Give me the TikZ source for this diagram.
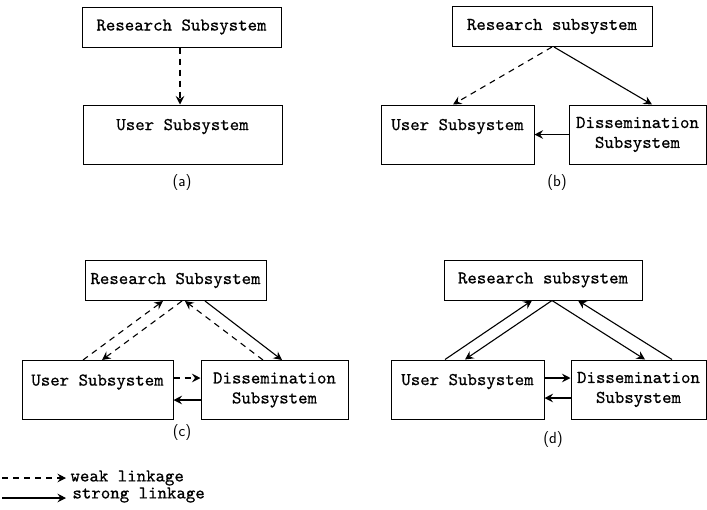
\documentclass[tikz,border=0pt]{standalone}
\usepackage{fontspec}
\setmonofont[FakeBold=0.6]{lmmono10-regular.otf}
\usetikzlibrary{arrows.meta}
\begin{document}
\begin{tikzpicture}[x=1pt,y=-1pt,line width=1pt,
    >={Stealth[length=8.5pt,width=8.5pt,inset=3pt]},
    box/.style={draw,align=center,inner sep=0pt,font=\fontsize{18}{20}\selectfont\ttfamily},
    sub/.style={box,minimum height=40pt},
    two/.style={box,minimum height=59pt},
    weak/.style={->,line width=1.1pt,dash pattern=on 6pt off 5pt},
    strong/.style={->,line width=1.1pt},
    tag/.style={font=\fontsize{16}{18}\selectfont\sffamily},
    key/.style={anchor=west,inner sep=0pt,font=\fontsize{18}{20}\selectfont\ttfamily}]
      \useasboundingbox (0,0) rectangle (707,509);
      % (a)
      \node[sub,minimum width=199pt] (ra) at (181.5,27) {Research Subsystem};
      \node[two,minimum width=199pt] (ua) at (182.5,134.5) {User Subsystem\\~};
      \draw[weak] ([xshift=-1.5pt]ra.south) -- ([xshift=-2.5pt]ua.north);
      \node[tag] (la) at (182,183) {(a)};
      % (b)
      \node[sub,minimum width=200pt] (rb) at (552,26.5) {Research subsystem};
      \node[two,minimum width=153pt] (ub) at (457.5,134.5) {User Subsystem\\~};
      \node[two,minimum width=137pt] (db) at (637.5,134.5) {Dissemination\\Subsystem};
      \draw[weak] (rb.south) -- ([xshift=-4.5pt]ub.north);
      \draw[strong] ([xshift=2pt]rb.south) -- ([xshift=14.5pt]db.north);
      \draw[strong] (db.west) -- (ub.east);
      \node[tag] (lb) at (557,183) {(b)};
      % (c)
      \node[sub,minimum width=181pt] (rc) at (175.5,280.5) {Research Subsystem};
      \node[two,minimum width=151pt] (uc) at (97.5,390) {User Subsystem\\~};
      \node[two,minimum width=147pt] (dc) at (274.5,390) {Dissemination\\Subsystem};
      \draw[weak] ([xshift=-14.5pt]uc.north) -- ([xshift=-12.5pt]rc.south);
      \draw[weak] ([xshift=6.5pt]rc.south) -- ([xshift=4.5pt]uc.north);
      \draw[weak] ([xshift=-11.5pt]dc.north) -- ([xshift=9.5pt]rc.south);
      \draw[strong] ([xshift=29.5pt]rc.south) -- ([xshift=7.5pt]dc.north);
      \draw[weak] ([yshift=12pt]uc.east) -- ([yshift=12pt]dc.west);
      \draw[strong] ([yshift=-10pt]dc.west) -- ([yshift=-10pt]uc.east);
      \node[tag] (lc) at (182,433) {(c)};
      % (d)
      \node[sub,minimum width=198pt] (rd) at (543,280) {Research subsystem};
      \node[two,minimum width=153pt] (ud) at (467.5,389.5) {User Subsystem\\~};
      \node[two,minimum width=135pt] (dd) at (638.5,389.5) {Dissemination\\Subsystem};
      \draw[strong] ([xshift=-22.5pt]ud.north) -- ([xshift=-11pt]rd.south);
      \draw[strong] ([xshift=9pt]rd.south) -- ([xshift=-2.5pt]ud.north);
      \draw[strong] ([xshift=9pt]rd.south) -- ([xshift=6.5pt]dd.north);
      \draw[strong] ([xshift=33.5pt]dd.north) -- ([xshift=35pt]rd.south);
      \draw[strong] ([yshift=11.5pt]ud.east) -- ([yshift=11.5pt]dd.west);
      \draw[strong] ([yshift=-8.5pt]dd.west) -- ([yshift=-8.5pt]ud.east);
      \node[tag] (ld) at (553,440) {(d)};
      % legend
      \coordinate (w1) at (2,478);
      \coordinate (w2) at (66,478);
      \coordinate (s1) at (2,498);
      \coordinate (s2) at (66,498);
      \draw[weak] (w1) -- (w2);
      \draw[strong] (s1) -- (s2);
      \node[key] (wk) at (70,478) {weak linkage};
      \node[key] (st) at (72,495) {strong linkage};
\end{tikzpicture}
\end{document}
